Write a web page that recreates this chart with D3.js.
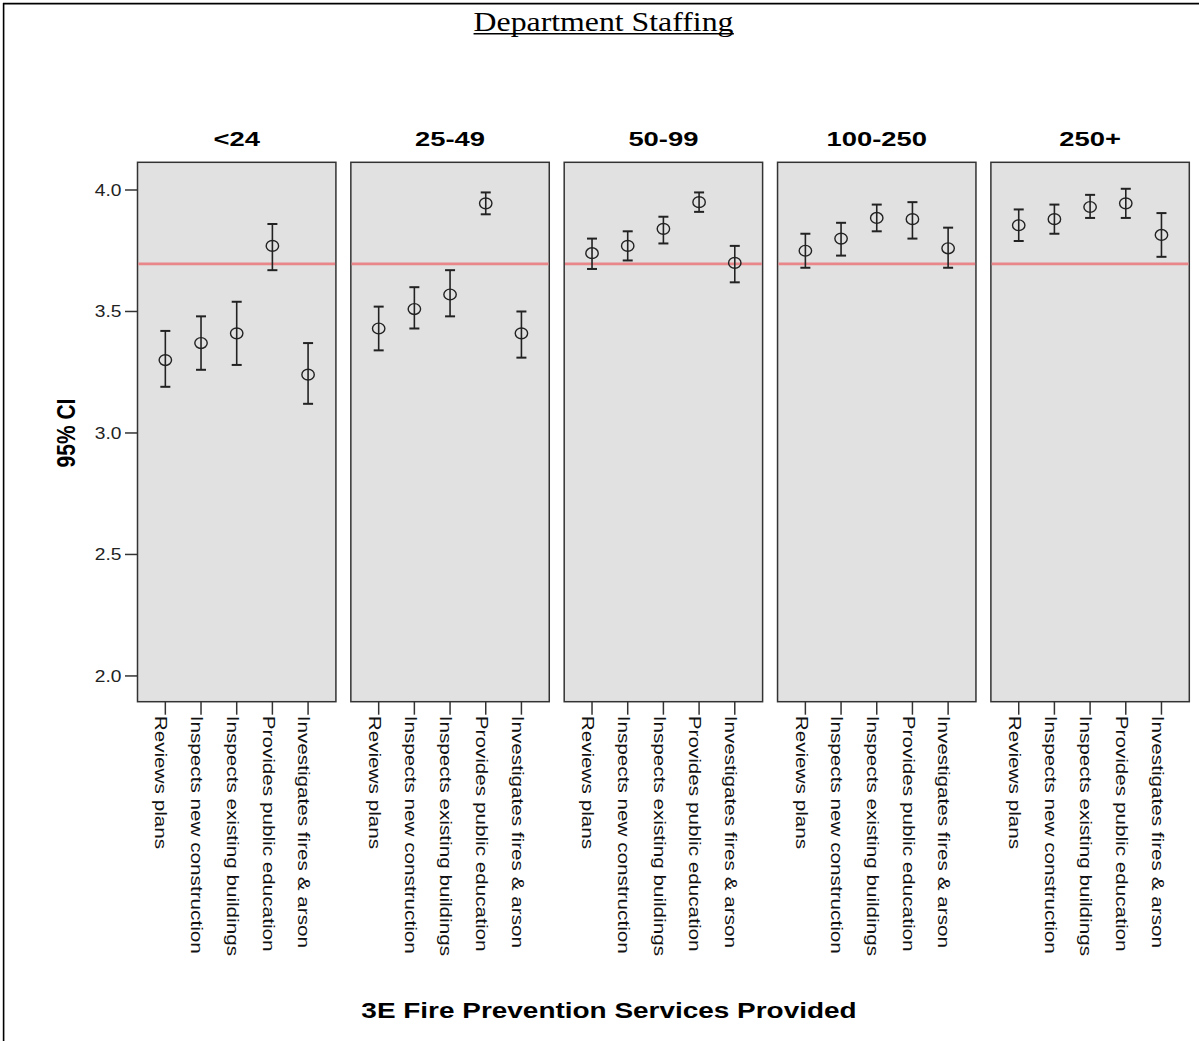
<!DOCTYPE html>
<html>
<head>
<meta charset="utf-8">
<script src="https://cdn.jsdelivr.net/npm/d3@7"></script>
<style>
  html, body { margin: 0; padding: 0; background: #fff; }
  svg { display: block; }
</style>
</head>
<body>
<svg id="chart" width="1199" height="1041"></svg>
<script>
// Staffing groups (one panel each) and the services rated in every panel
const groups = ["<24", "25-49", "50-99", "100-250", "250+"];
const services = [
  "Reviews plans",
  "Inspects new construction",
  "Inspects existing buildings",
  "Provides public education",
  "Investigates fires & arson"
];

// Mean rating per service, one row per staffing group
const means = [
  [3.30, 3.37, 3.41, 3.77, 3.24],
  [3.43, 3.51, 3.57, 3.945, 3.41],
  [3.74, 3.77, 3.84, 3.95, 3.70],
  [3.75, 3.80, 3.885, 3.88, 3.76],
  [3.855, 3.88, 3.93, 3.945, 3.815]
];
// Lower and upper bounds of the 95% confidence interval
const lower = [
  [3.19, 3.26, 3.28, 3.67, 3.12],
  [3.34, 3.43, 3.48, 3.90, 3.31],
  [3.675, 3.71, 3.78, 3.91, 3.62],
  [3.68, 3.73, 3.83, 3.80, 3.68],
  [3.79, 3.82, 3.885, 3.885, 3.725]
];
const upper = [
  [3.42, 3.48, 3.54, 3.86, 3.37],
  [3.52, 3.60, 3.67, 3.99, 3.50],
  [3.80, 3.83, 3.89, 3.99, 3.77],
  [3.82, 3.865, 3.94, 3.95, 3.845],
  [3.92, 3.94, 3.98, 4.005, 3.905]
];

// Overall reference mean drawn across every panel
const referenceMean = 3.696;

// Value axis
const yTicks = [2.0, 2.5, 3.0, 3.5, 4.0];
const yDomain = [1.894, 4.114];

const chartTitle = "Department Staffing";
const yTitle = "95% CI";
const xTitle = "3E Fire Prevention Services Provided";

// ---------------------------------------------------------------
const svg = d3.select("#chart");
const SANS = "'Liberation Sans', Arial, sans-serif";
const SERIF = "'Liberation Serif', 'Times New Roman', serif";

const plotTop = 162.3, plotBottom = 701.7;
const y = d3.scaleLinear().domain(yDomain).range([plotBottom, plotTop]);

const panelX = d3.scaleBand().domain(groups).range([137.5, 1189.3])
  .paddingInner(0.07).paddingOuter(0);
const bw = panelX.bandwidth();
const xInner = d3.scalePoint().domain(services).range([0, bw]).padding(0.78);

// Page frame
svg.append("rect").attr("width", 1199).attr("height", 1041).attr("fill", "#fff");
svg.append("line").attr("x1", 3).attr("x2", 1199).attr("y1", 3.6).attr("y2", 3.6)
  .attr("stroke", "#000").attr("stroke-width", 1.6);
svg.append("line").attr("x1", 3.6).attr("x2", 3.6).attr("y1", 3).attr("y2", 1041)
  .attr("stroke", "#000").attr("stroke-width", 1.6);

// Underlined heading
const head = svg.append("g").attr("transform", "translate(603.5,30.5) scale(1.2,1)");
const headText = head.append("text").attr("text-anchor", "middle")
  .attr("font-family", SERIF).attr("font-size", 26.5).attr("fill", "#000")
  .text(chartTitle);
const hb = headText.node().getBBox();
head.append("line").attr("x1", hb.x).attr("x2", hb.x + hb.width)
  .attr("y1", 3.2).attr("y2", 3.2).attr("stroke", "#000").attr("stroke-width", 1.4);

// Y axis title
svg.append("g").attr("transform", "translate(66,433) rotate(-90) scale(1,1.25)")
  .append("text").attr("text-anchor", "middle").attr("dy", "0.36em")
  .attr("font-family", SANS).attr("font-weight", "bold").attr("font-size", 21)
  .attr("fill", "#000").text(yTitle);

// Y axis ticks and labels (left of first panel)
const yAxis = svg.append("g");
yTicks.forEach(t => {
  yAxis.append("line").attr("x1", panelX(groups[0]) - 12.5).attr("x2", panelX(groups[0]))
    .attr("y1", y(t)).attr("y2", y(t)).attr("stroke", "#333").attr("stroke-width", 1.5);
  yAxis.append("g").attr("transform", `translate(121.5,${y(t)}) scale(1.2,1)`)
    .append("text").attr("text-anchor", "end").attr("dy", "0.36em")
    .attr("font-family", SANS).attr("font-size", 16).attr("fill", "#222")
    .text(t.toFixed(1));
});

// Panels
groups.forEach((g, gi) => {
  const px = panelX(g);
  const panel = svg.append("g").attr("transform", `translate(${px},0)`);

  panel.append("rect").attr("x", 0).attr("y", plotTop).attr("width", bw)
    .attr("height", plotBottom - plotTop).attr("fill", "#e1e1e1")
    .attr("stroke", "#333").attr("stroke-width", 1.5);

  // panel heading
  panel.append("g").attr("transform", `translate(${bw / 2},146) scale(1.37,1)`)
    .append("text").attr("text-anchor", "middle")
    .attr("font-family", SANS).attr("font-weight", "bold").attr("font-size", 20)
    .attr("fill", "#000").text(g);

  // reference line
  panel.append("line").attr("x1", 0.8).attr("x2", bw - 0.8)
    .attr("y1", y(referenceMean)).attr("y2", y(referenceMean))
    .attr("stroke", "#e8868a").attr("stroke-width", 2.6);

  // category ticks and rotated labels
  services.forEach(s => {
    const cx = xInner(s);
    panel.append("line").attr("x1", cx).attr("x2", cx)
      .attr("y1", plotBottom).attr("y2", plotBottom + 13)
      .attr("stroke", "#333").attr("stroke-width", 1.5);
    panel.append("g").attr("transform", `translate(${cx - 4},${plotBottom + 14}) rotate(90) scale(1.38,1.08)`)
      .append("text").attr("text-anchor", "start").attr("dy", "0.36em")
      .attr("font-family", SANS).attr("font-size", 15).attr("fill", "#111")
      .text(s);
  });

  // confidence intervals
  const rows = services.map((s, i) => ({
    s, m: means[gi][i], lo: lower[gi][i], hi: upper[gi][i]
  }));
  const marks = panel.selectAll("g.ci").data(rows).join("g").attr("class", "ci")
    .attr("transform", d => `translate(${xInner(d.s)},0)`);
  marks.append("line").attr("x1", 0).attr("x2", 0)
    .attr("y1", d => y(d.hi)).attr("y2", d => y(d.lo))
    .attr("stroke", "#222").attr("stroke-width", 1.6);
  marks.append("line").attr("x1", -5).attr("x2", 5)
    .attr("y1", d => y(d.hi)).attr("y2", d => y(d.hi))
    .attr("stroke", "#222").attr("stroke-width", 2);
  marks.append("line").attr("x1", -5).attr("x2", 5)
    .attr("y1", d => y(d.lo)).attr("y2", d => y(d.lo))
    .attr("stroke", "#222").attr("stroke-width", 2);
  marks.append("ellipse").attr("cx", 0).attr("cy", d => y(d.m))
    .attr("rx", 6.2).attr("ry", 5.4)
    .attr("fill", "none").attr("stroke", "#222").attr("stroke-width", 1.4);
});

// X axis title
svg.append("g").attr("transform", "translate(609,1018) scale(1.3,1.05)")
  .append("text").attr("text-anchor", "middle")
  .attr("font-family", SANS).attr("font-weight", "bold").attr("font-size", 21.5)
  .attr("fill", "#000").text(xTitle);
</script>
</body>
</html>
